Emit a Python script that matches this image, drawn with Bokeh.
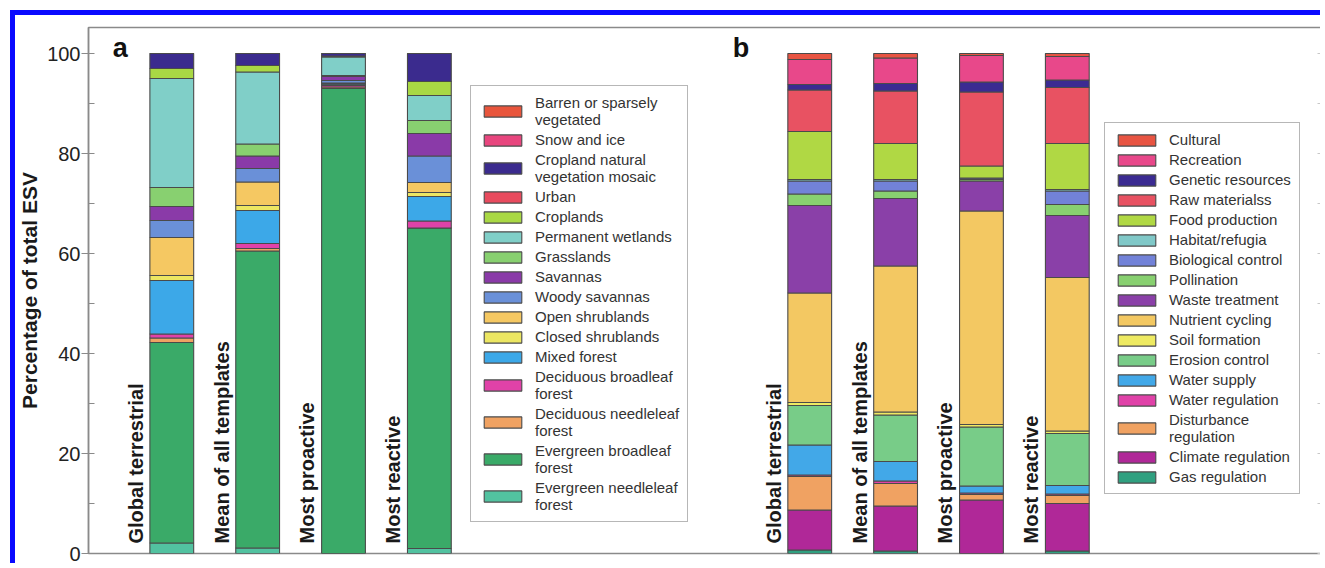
import numpy as np
from bokeh.plotting import figure
from bokeh.models import (ColumnDataSource, Legend, LegendItem, Range1d,
                          SingleIntervalTicker, LinearAxis, FixedTicker)
from bokeh.embed import file_html
from bokeh.resources import INLINE
from bokeh.core.properties import value

# ---------------- data ----------------
scenarios = ["Global terrestrial", "Mean of all templates", "Most proactive", "Most reactive"]

# Panel a: land-cover share of total ESV (%), per scenario (order as scenarios)
barren_sparse      = [0.0, 0.0, 0.0, 0.0]
snow_ice           = [0.0, 0.0, 0.0, 0.0]
cropland_mosaic    = [3.0, 2.4, 0.5, 5.6]
urban              = [0.0, 0.0, 0.0, 0.0]
croplands          = [2.0, 1.3, 0.2, 2.8]
permanent_wetlands = [21.8, 14.4, 3.7, 5.0]
grasslands         = [3.8, 2.4, 0.2, 2.6]
savannas           = [2.8, 2.5, 0.8, 4.5]
woody_savannas     = [3.4, 2.7, 0.5, 5.3]
open_shrublands    = [7.6, 4.7, 0.2, 2.0]
closed_shrublands  = [1.0, 1.0, 0.0, 0.8]
mixed_forest       = [10.7, 6.6, 0.3, 4.9]
decid_broadleaf    = [0.8, 1.0, 0.3, 1.4]
decid_needleleaf   = [0.9, 0.5, 0.3, 0.0]
evergreen_broadleaf = [40.1, 59.4, 93.0, 64.1]
evergreen_needleleaf = [2.1, 1.1, 0.0, 1.0]

land_labels = ["Barren or sparsely\nvegetated", "Snow and ice", "Cropland natural\nvegetation mosaic",
               "Urban", "Croplands", "Permanent wetlands", "Grasslands", "Savannas",
               "Woody savannas", "Open shrublands", "Closed shrublands", "Mixed forest",
               "Deciduous broadleaf\nforest", "Deciduous needleleaf\nforest",
               "Evergreen broadleaf\nforest", "Evergreen needleleaf\nforest"]
land_values = [barren_sparse, snow_ice, cropland_mosaic, urban, croplands, permanent_wetlands,
               grasslands, savannas, woody_savannas, open_shrublands, closed_shrublands,
               mixed_forest, decid_broadleaf, decid_needleleaf, evergreen_broadleaf,
               evergreen_needleleaf]
land_colors = ["#e8553c", "#e8467e", "#3b2b8e", "#e84b5e", "#a9d844", "#80cfc8", "#88d070",
               "#8a3aa8", "#6a90d8", "#f5c862", "#ece662", "#3ca8e8", "#e042a8", "#f0a262",
               "#3aaa68", "#52c2a0"]

# Panel b: ecosystem-service share of total ESV (%)
cultural        = [1.2, 0.9, 0.4, 0.6]
recreation      = [5.0, 5.1, 5.3, 4.7]
genetic         = [1.1, 1.5, 2.0, 1.5]
raw_materials   = [8.3, 10.5, 14.8, 11.2]
food_production = [9.6, 7.2, 2.4, 9.2]
habitat         = [0.3, 0.3, 0.0, 0.3]
bio_control     = [2.6, 2.0, 0.3, 2.7]
pollination     = [2.3, 1.5, 0.3, 2.2]
waste_treatment = [17.5, 13.5, 6.0, 12.4]
nutrient_cycling = [21.9, 29.2, 42.7, 30.7]
soil_formation  = [0.6, 0.6, 0.5, 0.5]
erosion_control = [7.9, 9.3, 11.8, 10.4]
water_supply    = [6.0, 3.9, 1.4, 1.7]
water_regulation = [0.3, 0.5, 0.3, 0.3]
disturbance_reg = [6.7, 4.5, 1.1, 1.6]
climate_reg     = [8.0, 9.0, 10.7, 9.5]
gas_reg         = [0.7, 0.5, 0.0, 0.5]

service_labels = ["Cultural", "Recreation", "Genetic resources", "Raw materialss",
                  "Food production", "Habitat/refugia", "Biological control", "Pollination",
                  "Waste treatment", "Nutrient cycling", "Soil formation", "Erosion control",
                  "Water supply", "Water regulation", "Disturbance\nregulation",
                  "Climate regulation", "Gas regulation"]
service_values = [cultural, recreation, genetic, raw_materials, food_production, habitat,
                  bio_control, pollination, waste_treatment, nutrient_cycling, soil_formation,
                  erosion_control, water_supply, water_regulation, disturbance_reg,
                  climate_reg, gas_reg]
service_colors = ["#e85442", "#e8488a", "#3b2b92", "#e85262", "#b0d844", "#80c8c8", "#7282d8",
                  "#88d070", "#8a40a8", "#f3c862", "#eeea62", "#78cc88", "#42a8e8", "#e042a8",
                  "#f0a262", "#b02898", "#30a080"]

# ---------------- figure ----------------
PX_UNIT = 86.0          # pixel width of one bar slot
FRAME_W = 1236
FRAME_H = 526
PX_PER_PCT = 5.0

p = figure(width=1310, height=553, output_backend="svg", toolbar_location=None,
           x_range=Range1d(0, FRAME_W / PX_UNIT), y_range=Range1d(0, FRAME_H / PX_PER_PCT),
           min_border_left=71, min_border_top=12, min_border_bottom=15, min_border_right=3)
p.styles = {"border-top": "5px solid #0a0aff", "border-left": "5px solid #0a0aff",
            "margin-top": "10px", "margin-left": "10px"}
p.xaxis.visible = False
p.xgrid.visible = False
p.ygrid.visible = False
p.outline_line_color = "#8a8a8a"
p.outline_line_width = 1.5
p.background_fill_color = "white"
p.border_fill_color = "white"

ya = p.yaxis[0]
ya.ticker = SingleIntervalTicker(interval=20, num_minor_ticks=2)
ya.axis_label = "Percentage of total ESV"
ya.axis_label_text_font = "Liberation Sans"
ya.axis_label_text_font_style = "bold"
ya.axis_label_text_font_size = "21px"
ya.axis_label_text_color = "#1a1a1a"
ya.axis_label_standoff = 3
ya.major_label_text_font = "Liberation Sans"
ya.major_label_text_font_size = "20px"
ya.major_label_text_color = "#222222"
ya.major_label_standoff = 1
ya.major_tick_out = 7
ya.major_tick_in = 0
ya.minor_tick_in = 6
ya.minor_tick_out = 0
ya.axis_line_color = "#8a8a8a"
ya.axis_line_width = 1.5
ya.major_tick_line_color = "#8a8a8a"
ya.minor_tick_line_color = "#8a8a8a"

ra = LinearAxis(ticker=FixedTicker(ticks=[], minor_ticks=list(np.arange(0, 101, 10))),
                minor_tick_in=5, minor_tick_out=0, major_tick_in=0, major_tick_out=0,
                axis_line_color="#d0d0d0", minor_tick_line_color="#c8c8c8")
p.add_layout(ra, "right")


def panel(base, labels, values, colors, legend_loc):
    keys = ["s%d" % i for i in range(len(labels))]
    data = {"x": base + np.arange(len(scenarios))}
    for k, v in zip(keys, values):
        data[k] = v
    src = ColumnDataSource(data)
    # stack from bottom: last legend entry at the bottom
    rs = p.vbar_stack(keys[::-1], x="x", width=0.51, color=colors[::-1], source=src,
                      line_color="#4a4a4a", line_width=1.1)
    rs = rs[::-1]
    items = [LegendItem(label=l, renderers=[r]) for l, r in zip(labels, rs)]
    leg = Legend(items=items, location=legend_loc, glyph_width=47, glyph_height=14,
                 label_standoff=9, label_height=17, spacing=3, padding=8, margin=0,
                 border_line_color="#707070", border_line_width=1.5,
                 label_text_font="Liberation Sans", label_text_font_size="15px",
                 label_text_color="#333333", label_text_line_height=1.15)
    p.add_layout(leg)
    lsrc = ColumnDataSource({"x": base + np.arange(len(scenarios)) - 0.42,
                             "y": [2.0] * len(scenarios), "t": scenarios})
    p.text(x="x", y="y", text="t", source=lsrc, angle=np.pi / 2, text_align="left",
           text_baseline="middle", text_font=value("Liberation Sans"), text_font_style="bold",
           text_font_size="20px", text_color="#1a1a1a")


panel(0.97, land_labels, land_values, land_colors, (382, 31))
panel(8.4, service_labels, service_values, service_colors, (1016, 59))

tsrc = ColumnDataSource({"x": [0.37, 7.6], "y": [101.2, 101.2], "t": ["a", "b"]})
p.text(x="x", y="y", text="t", source=tsrc, text_align="center", text_baseline="middle",
       text_font=value("Liberation Sans"), text_font_style="bold", text_font_size="27px",
       text_color="#111111")

open("out.html", "w").write(file_html(p, INLINE))
